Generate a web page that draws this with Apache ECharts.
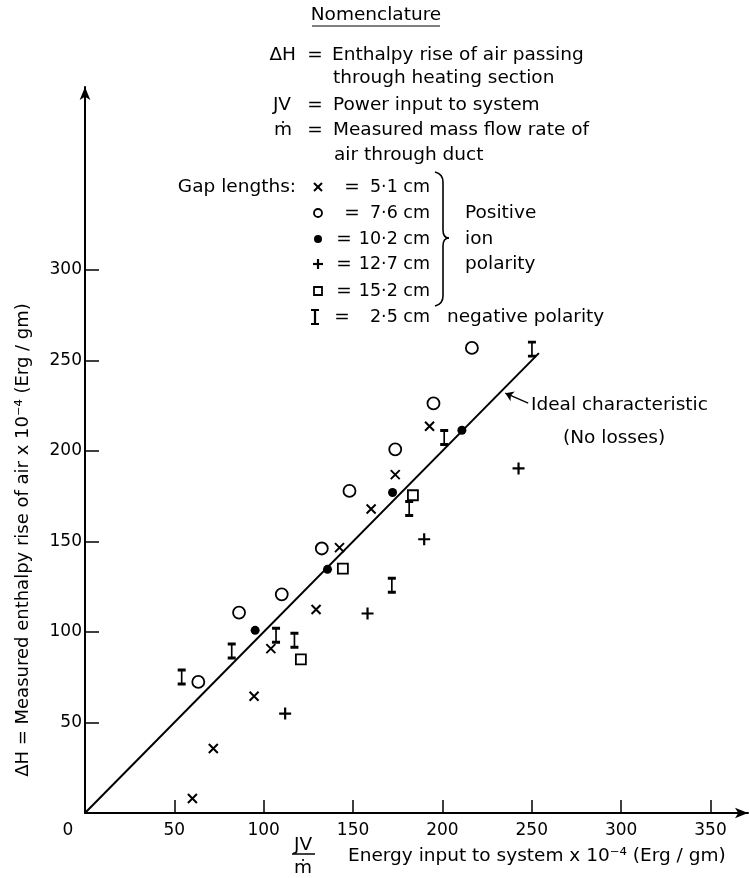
<!DOCTYPE html>
<html><head><meta charset="utf-8">
<script src="https://cdn.jsdelivr.net/npm/echarts@6/dist/echarts.min.js"></script>
<style>html,body{margin:0;padding:0;background:#fff}#c{width:749px;height:878px}</style>
</head><body><div id="c"></div>
<script>
// ---- data ----
const xTickValues = [0, 50, 100, 150, 200, 250, 300, 350];
const yTickValues = [50, 100, 150, 200, 250, 300];
const gap51cm = [[192.8,213.6],[173.6,186.9],[160.1,167.9],[142.4,146.6],[129.3,112.4],[104,90.8],[94.6,64.5],[71.8,35.6],[60.1,8.0]];
const gap76cm = [[216.5,256.9],[195,226.2],[173.6,200.9],[148,177.9],[132.5,146.1],[110.1,120.8],[86.2,110.7],[63.4,72.4]];
const gap102cm = [[210.9,211.4],[172.1,177],[135.7,134.6],[95.2,100.9]];
const gap127cm = [[242.6,190.3],[189.8,151.2],[158.1,110.2],[112,54.9]];
const gap152cm = [[183.5,175.5],[144.3,135],[120.8,84.9]];
const gap25cmNeg = [[250.1,256.2],[201,207.4],[181.4,168.2],[171.7,125.8],[106.9,98.2],[117.2,95.4],[82.1,89.5],[54.1,75.1]];
const idealLine = [[0,0],[254,254]];
const idealArrow = [[248,226.4],[235.2,231.9]];

const FONT = '"DejaVu Sans", sans-serif';
const FS = 18.5;
const SYM_X = 'path://M0,0L10,10M10,0L0,10';
const SYM_PLUS = 'path://M5,0L5,10M0,5L10,5';
const SYM_I = 'path://M0,0L8,0M4,0L4,14M0,14L8,14';

const chart = echarts.init(document.getElementById('c'));

function T(x, y, text, align, size, extra) {
  const s = Object.assign({text: text, fill: '#000', font: (size || FS) + 'px ' + FONT,
    align: align || 'left', verticalAlign: 'middle', textAlign: align || 'left', textVerticalAlign: 'middle'}, extra || {});
  return {type: 'text', x: x, y: y, style: s, z: 10, silent: true};
}
function L(x1, y1, x2, y2, w) {
  return {type: 'line', shape: {x1: x1, y1: y1, x2: x2, y2: y2}, style: {stroke: '#000', lineWidth: w || 1.5}, silent: true};
}
function Q(x1, y1, cx, cy, x2, y2) {
  return {type: 'bezierCurve', shape: {x1: x1, y1: y1, cpx1: cx, cpy1: cy, x2: x2, y2: y2}, style: {stroke: '#000', lineWidth: 1.6, fill: null}, silent: true};
}
const strokeStyle = {stroke: '#000', lineWidth: 1.8, fill: null};

const graphic = [
  T(376, 15, 'Nomenclature', 'center'),
  L(312, 26, 440, 26, 1.2),
  T(296, 55, 'ΔH', 'right'), T(315, 55, '=', 'center'), T(332, 55, 'Enthalpy rise of air passing'),
  T(333, 78, 'through heating section'),
  T(291, 105, 'JV', 'right'), T(315, 105, '=', 'center'), T(333, 105, 'Power input to system'),
  T(283, 130, 'ṁ', 'center'), T(315, 130, '=', 'center'), T(333, 130, 'Measured mass flow rate of'),
  T(334, 155, 'air through duct'),
  T(296, 187, 'Gap lengths:', 'right'),
  T(352, 187, '=', 'center'), T(430, 187, '5·1 cm', 'right', 17.5),
  T(352, 213, '=', 'center'), T(430, 213, '7·6 cm', 'right', 17.5),
  T(344, 239, '=', 'center'), T(430, 239, '10·2 cm', 'right', 17.5),
  T(344, 264, '=', 'center'), T(430, 264, '12·7 cm', 'right', 17.5),
  T(344, 291, '=', 'center'), T(430, 291, '15·2 cm', 'right', 17.5),
  T(342, 317, '=', 'center'), T(430, 317, '2·5 cm', 'right', 17.5),
  T(447, 317, 'negative polarity'),
  T(465, 213, 'Positive'), T(465, 239, 'ion'), T(465, 264, 'polarity'),
  // brace
  Q(435, 172, 443, 174, 443, 182), L(443, 182, 443, 230, 1.6), Q(443, 230, 443, 238, 449, 238),
  Q(449, 238, 443, 238, 443, 246), L(443, 246, 443, 296, 1.6), Q(443, 296, 443, 304, 435, 306),
  // legend symbols
  L(314, 183, 322, 191, 2), L(322, 183, 314, 191, 2),
  {type: 'circle', shape: {cx: 318, cy: 213, r: 4}, style: strokeStyle, silent: true},
  {type: 'circle', shape: {cx: 318, cy: 239, r: 4}, style: {fill: '#000'}, silent: true},
  L(318, 259, 318, 269, 2.2), L(313, 264, 323, 264, 2.2),
  {type: 'rect', shape: {x: 314, y: 287, width: 8, height: 8}, style: strokeStyle, silent: true},
  L(311, 310, 319, 310, 2), L(315, 310, 315, 324, 2.2), L(311, 324, 319, 324, 2),
  // annotation
  T(531, 405, 'Ideal characteristic'),
  T(563, 438, '(No losses)'),
  // axis titles
  Object.assign(T(23, 540, 'ΔH = Measured enthalpy rise of air x 10⁻⁴ (Erg / gm)', 'center', 18), {rotation: Math.PI / 2}),
  T(303, 845, 'JV', 'center'),
  L(292, 854, 315, 854, 1.5),
  T(303, 868, 'ṁ', 'center'),
  T(348, 856, 'Energy input to system x 10⁻⁴ (Erg / gm)', 'left', 18.5)
];

function scatter(data, symbol, size, filled, width) {
  return {type: 'scatter', data: data, symbol: symbol, symbolSize: size, silent: true, z: 5,
    itemStyle: filled ? {color: '#000', opacity: 1} : {color: 'rgba(0,0,0,0)', borderColor: '#000', borderWidth: width || 1.8, opacity: 1}};
}

chart.setOption({
  backgroundColor: '#fff',
  animation: false,
  grid: {left: 85, right: 1, top: 87, bottom: 65, containLabel: false},
  xAxis: {
    type: 'value', min: 0, max: 371, interval: 50,
    axisLine: {lineStyle: {color: '#000', width: 2}, symbol: ['none', 'arrow'], symbolSize: [8, 13]},
    axisTick: {inside: true, length: 13, lineStyle: {color: '#000', width: 1.5}, customValues: xTickValues.filter(v => v > 0)},
    axisLabel: {color: '#000', fontSize: 17, fontFamily: FONT, margin: 9, customValues: xTickValues,
      formatter: v => v === 0 ? '{z|0}' : String(v), rich: {z: {fontSize: 17, fontFamily: FONT, color: '#000', padding: [0, 34, 0, 0]}}},
    splitLine: {show: false}
  },
  yAxis: {
    type: 'value', min: 0, max: 401, interval: 50,
    axisLine: {lineStyle: {color: '#000', width: 2}, symbol: ['none', 'arrow'], symbolSize: [8, 13]},
    axisTick: {inside: true, length: 14, lineStyle: {color: '#000', width: 1.5}, customValues: yTickValues},
    axisLabel: {color: '#000', fontSize: 17, fontFamily: FONT, margin: 3, customValues: yTickValues},
    splitLine: {show: false}
  },
  graphic: graphic,
  series: [
    {type: 'line', data: idealLine, symbol: 'none', silent: true, lineStyle: {color: '#000', width: 2}, z: 3,
      markLine: {silent: true, symbol: ['none', 'arrow'], symbolSize: 8, label: {show: false},
        lineStyle: {color: '#000', width: 1.3, type: 'solid'},
        data: [[{coord: idealArrow[0]}, {coord: idealArrow[1]}]]}},
    scatter(gap51cm, SYM_X, 9, false, 2),
    scatter(gap76cm, 'circle', 12, false, 1.8),
    scatter(gap102cm, 'circle', 9, true),
    scatter(gap127cm, SYM_PLUS, 12, false, 2.2),
    scatter(gap152cm, 'rect', 10, false, 1.8),
    scatter(gap25cmNeg, SYM_I, [8, 14], false, 2.2)
  ]
});
</script>
</body></html>
